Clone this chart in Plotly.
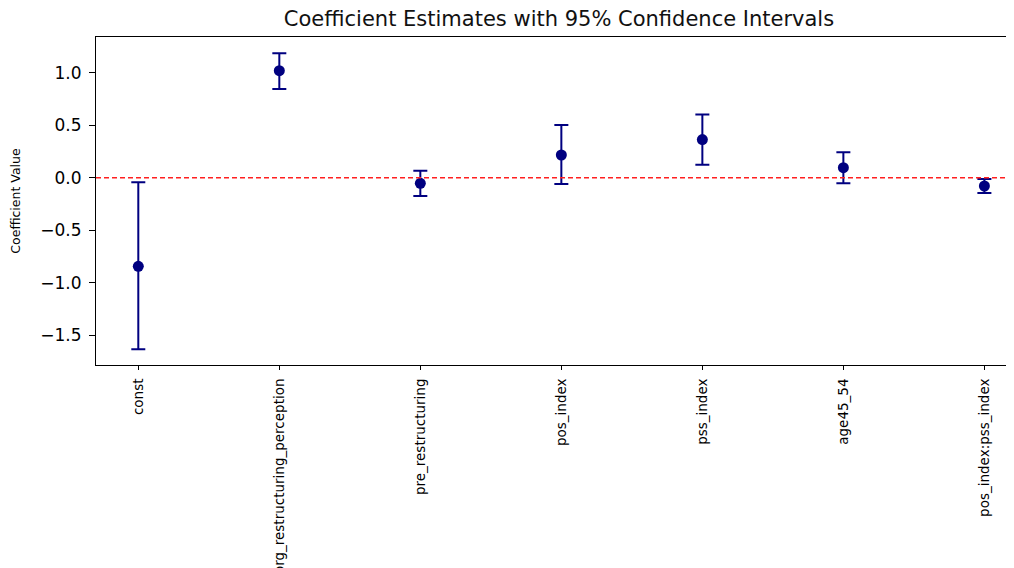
import plotly.graph_objects as go

variables = ["const", "org_restructuring_perception", "pre_restructuring",
             "pos_index", "pss_index", "age45_54", "pos_index:pss_index"]
coef = [-0.844, 1.019, -0.054, 0.216, 0.363, 0.095, -0.079]
ci_lower = [-1.634, 0.845, -0.175, -0.060, 0.124, -0.054, -0.146]
ci_upper = [-0.044, 1.185, 0.067, 0.502, 0.602, 0.242, -0.012]

y_tickvals = [-1.5, -1.0, -0.5, 0.0, 0.5, 1.0]
y_ticktext = ["\u22121.5", "\u22121.0", "\u22120.5", "0.0", "0.5", "1.0"]

err_plus = [u - c for u, c in zip(ci_upper, coef)]
err_minus = [c - l for c, l in zip(coef, ci_lower)]

navy = "#000080"
fig = go.Figure()
fig.add_trace(go.Scatter(
    x=variables, y=coef, mode="markers",
    marker=dict(color=navy, size=11),
    error_y=dict(type="data", symmetric=False, array=err_plus, arrayminus=err_minus,
                 color=navy, thickness=2, width=7),
    showlegend=False,
))

fig.add_shape(type="line", xref="paper", yref="y", x0=0, x1=1, y0=0, y1=0,
              line=dict(color="#ff2020", width=1.5, dash="5px,3px"))

font = "DejaVu Sans, Noto Sans, sans-serif"
W, H = 1006, 560  # page body adds an 8px offset
fig.update_layout(
    width=W, height=H,
    margin=dict(l=88, r=0, t=29, b=203),
    paper_bgcolor="white", plot_bgcolor="white",
    font=dict(family=font, color="black"),
    title=dict(text="Coefficient Estimates with 95% Confidence Intervals",
               x=551 / W, xanchor="center", y=1 - 11 / H, yanchor="middle",
               font=dict(size=21, family=font, color="#111111")),
    xaxis=dict(
        range=[-0.3, 6.21], showgrid=False, zeroline=False, automargin=False,
        showline=True, linecolor="black", linewidth=1.2, mirror=True,
        ticks="outside", ticklen=4, tickcolor="black", ticklabelstandoff=3,
        tickangle=-90, tickfont=dict(size=13.5),
    ),
    yaxis=dict(
        range=[-1.784, 1.34], showgrid=False, zeroline=False, automargin=False,
        showline=True, linecolor="black", linewidth=1.2,
        ticks="outside", ticklen=6, tickcolor="black", ticklabelstandoff=4,
        tickvals=y_tickvals, ticktext=y_ticktext, tickfont=dict(size=17),
        title=dict(text="Coefficient Value", font=dict(size=12.5), standoff=18),
    ),
)

fig.write_html("out.html")
